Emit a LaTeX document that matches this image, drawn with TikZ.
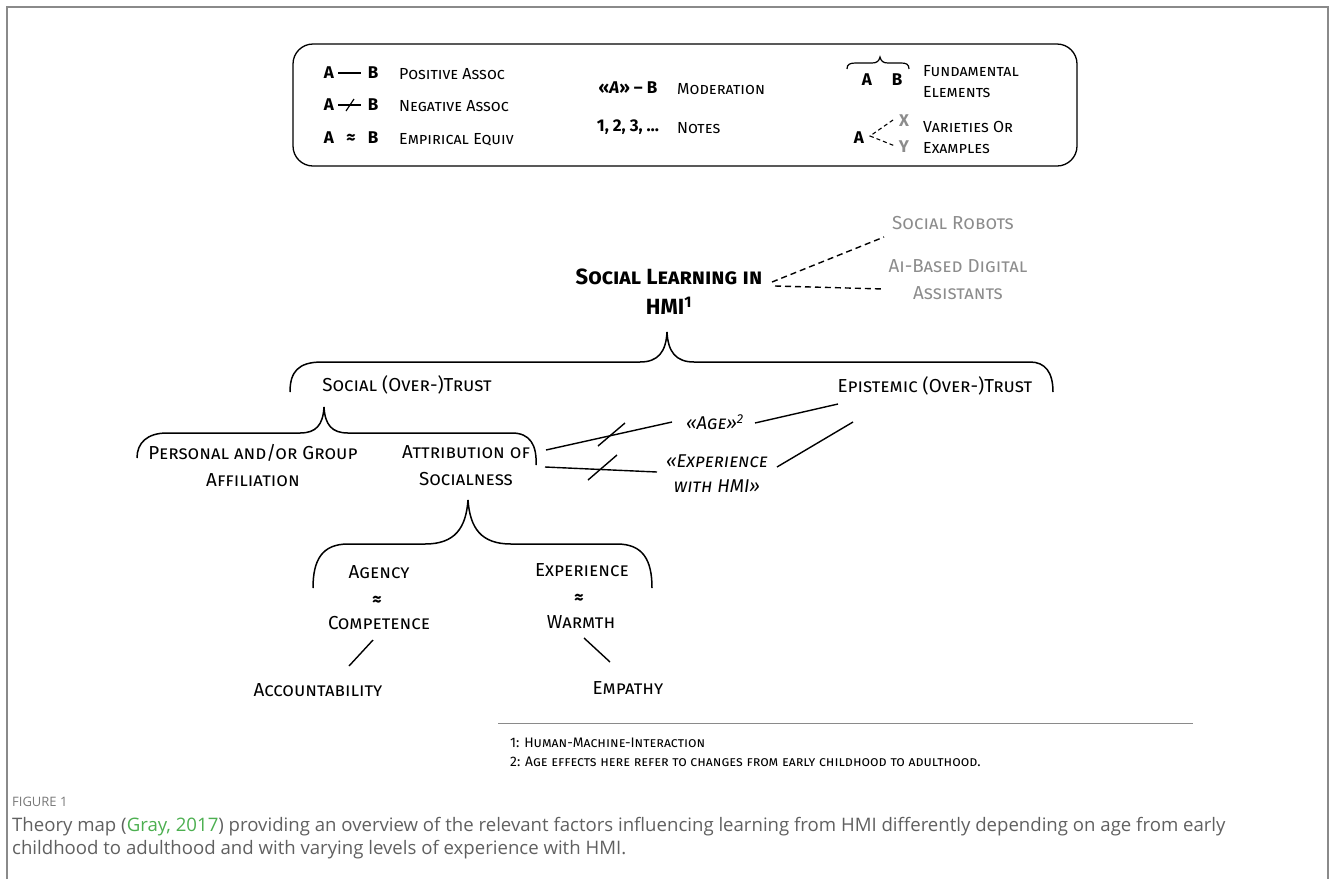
\documentclass[tikz,border=0pt]{standalone}
\usepackage{fontspec}
\setmainfont{Fira Sans}
\newfontfamily\capfont{Open Sans}
\usetikzlibrary{calc}
\definecolor{framegray}{HTML}{8A8A8A}
\definecolor{exgray}{HTML}{8C8C8C}
\definecolor{capgray}{HTML}{606060}
\definecolor{citegreen}{HTML}{4CAF50}
\begin{document}
\begin{tikzpicture}[x=1pt,y=-1pt,
  lbl/.style={font=\fontsize{16}{18}\selectfont\scshape, inner sep=0, anchor=base west},
  sym/.style={font=\fontsize{17}{18}\selectfont\bfseries, inner sep=0},
  mainlbl/.style={font=\fontsize{18.8}{27}\selectfont\scshape, inner sep=0, align=center},
  apx/.style={font=\fontsize{18}{18}\selectfont\bfseries, inner sep=0},
  exlbl/.style={mainlbl, text=exgray},
  modlbl/.style={font=\fontsize{18.5}{25}\selectfont\itshape\scshape, inner sep=0, align=center},
  ttl/.style={font=\fontsize{22}{30}\selectfont\bfseries\scshape, inner sep=0, align=center},
  brace/.style={line width=1.5pt},
  conn/.style={line width=1.4pt},
  note/.style={font=\fontsize{13.8}{15}\selectfont\scshape, inner sep=0, anchor=base west},
]
\useasboundingbox (0,0) rectangle (1331,879);
% frame
\draw[framegray, line width=1.8pt] (7,879) -- (7,7) -- (1328,7) -- (1328,879);

% legend box
\draw[line width=1.3pt, rounded corners=20pt] (293,44) rectangle (1077,166);
% column 1
\node[sym] (pa) at (329,73) {A};
\node[sym] (pb) at (373,73) {B};
\draw[line width=1.3pt] ([xshift=4pt]pa.east) -- ([xshift=-7pt]pb.west);
\node[lbl] (plbl) at (399,79) {Positive Assoc};
\node[sym] (na) at (329,105) {A};
\node[sym] (nb) at (373,105) {B};
\draw[line width=1.3pt] ([xshift=4pt]na.east) -- ([xshift=-7pt]nb.west);
\draw[line width=1.2pt] (346,111) -- (354,99);
\node[lbl] (nlbl) at (399,111) {Negative Assoc};
\node[sym] (ea) at (329,138) {A};
\node[apx] (eq) at (351,139) {≈};
\node[sym] (eb) at (373,138) {B};
\node[lbl] (elbl) at (399,144) {Empirical Equiv};
% column 2
\node[sym] (mod) at (628,88) {«\textit{A}» – B};
\node[lbl] (mlbl) at (677,94) {Moderation};
\node[sym] (nts) at (628,127) {1, 2, 3, …};
\node[lbl] (ntlbl) at (677,133) {Notes};
% column 3
\draw[line width=1.2pt] (847,69) .. controls (847,64) and (850,63) .. (856,63) -- (872,63) .. controls (877,63) and (879,61) .. (880,57) .. controls (881,61) and (883,63) .. (888,63) -- (901,63) .. controls (906,63) and (909,64) .. (909,69);
\node[sym] (fa) at (867,80) {A};
\node[sym] (fb) at (897,80) {B};
\node[lbl] (flbl) at (923,76) {Fundamental};
\node[lbl] (flbl2) at (923,97) {Elements};
\node[sym] (va) at (859,138) {A};
\node[sym, text=exgray] (vx) at (904,121) {X};
\node[sym, text=exgray] (vy) at (904,147) {Y};
\draw[dashed, line width=1.1pt, dash pattern=on 4pt off 3pt] (893,120) -- (870,136) -- (895,146);
\node[lbl] (vlbl) at (923,132) {Varieties Or};
\node[lbl] (vlbl2) at (923,153) {Examples};

% title
\node[ttl] (title) at (669,292) {Social Learning in\\HMI\textsuperscript{1}};
\node[exlbl] (robots) at (953,223) {Social Robots};
\node[exlbl] (aibased) at (958,280) {Ai-Based Digital\\Assistants};
\coordinate (t1) at (772,282);
\coordinate (t2) at (775,286);
\coordinate (r1) at (884,237);
\coordinate (r2) at (884,289);
\draw[dashed, line width=1.4pt, dash pattern=on 6pt off 4pt] (t1) -- (r1);
\draw[dashed, line width=1.4pt, dash pattern=on 6pt off 4pt] (t2) -- (r2);

% big brace
\draw[brace] (290,392) .. controls (290,372) and (298,362) .. (322,362) -- (640,362) .. controls (658,362) and (666,352) .. (667,332) .. controls (668,352) and (676,362) .. (694,362) -- (1030,362) .. controls (1045,362) and (1053,372) .. (1053,392);
\node[mainlbl] (soctrust) at (407,385) {Social (Over-)Trust};
\node[mainlbl] (epitrust) at (935,386) {Epistemic (Over-)Trust};

% second brace
\draw[brace] (137,458) .. controls (137,443) and (147,433) .. (167,433) -- (300,433) .. controls (316,433) and (323,425) .. (324,407) .. controls (325,425) and (332,433) .. (348,433) -- (512,433) .. controls (530,433) and (537,445) .. (536,465);
\node[mainlbl] (personal) at (253,466) {Personal and/or Group\\Affiliation};
\node[mainlbl] (attrib) at (466,466) {Attribution of\\Socialness};

% moderators
\node[modlbl] (age) at (715,422) {«Age»\textsuperscript{2}};
\node[modlbl] (exper) at (717,474) {«Experience\\with HMI»};
\coordinate (a1) at (546,450);
\coordinate (a2) at (672,422);
\coordinate (a3) at (755,423);
\coordinate (a4) at (838,404);
\coordinate (e1) at (545,467);
\coordinate (e2) at (657,472);
\coordinate (e3) at (777,467);
\coordinate (e4) at (853,422);
\draw[conn] (a1) -- (a2);
\draw[conn] (a3) -- (a4);
\draw[conn] (e1) -- (e2);
\draw[conn] (e3) -- (e4);
\draw[conn] (598,446) -- (625,423);
\draw[conn] (588,480) -- (617,455);

% third brace
\draw[brace] (313,588) .. controls (313,560) and (322,544) .. (348,544) -- (425,544) .. controls (455,544) and (466,528) .. (468,500) .. controls (470,528) and (481,544) .. (511,544) -- (617,544) .. controls (643,544) and (652,560) .. (652,588);
\node[mainlbl] (agency) at (379,572) {Agency};
\node[apx] (apx1) at (377,601) {≈};
\node[mainlbl] (compet) at (379,623) {Competence};
\node[mainlbl] (experience) at (582,570) {Experience};
\node[apx] (apx2) at (579,599) {≈};
\node[mainlbl] (warmth) at (581,622) {Warmth};
\node[mainlbl] (account) at (318,690) {Accountability};
\node[mainlbl] (empathy) at (628,688) {Empathy};
\coordinate (c1) at (373,640);
\coordinate (c2) at (349,666);
\coordinate (w1) at (584,638);
\coordinate (w2) at (610,662);
\draw[conn] (c1) -- (c2);
\draw[conn] (w1) -- (w2);

% footnotes
\draw[line width=1pt, framegray] (498,723) -- (1193,723);
\node[note] (fn1) at (510,747) {1: Human-Machine-Interaction};
\node[note] (fn2) at (510,766) {2: Age effects here refer to changes from early childhood to adulthood.};

% caption
\node[font=\capfont\fontsize{13}{14}\selectfont, text=capgray!85, inner sep=0, anchor=base west] (figlbl) at (12,806) {FIGURE 1};
\node[font=\capfont\fontsize{18.6}{20}\selectfont, text=capgray, inner sep=0, anchor=base west] (cap1) at (12,831) {Theory map (\textcolor{citegreen}{Gray, 2017}) providing an overview of the relevant factors influencing learning from HMI differently depending on age from early};
\node[font=\capfont\fontsize{18.6}{20}\selectfont, text=capgray, inner sep=0, anchor=base west] (cap2) at (12,854) {childhood to adulthood and with varying levels of experience with HMI.};
\end{tikzpicture}
\end{document}
